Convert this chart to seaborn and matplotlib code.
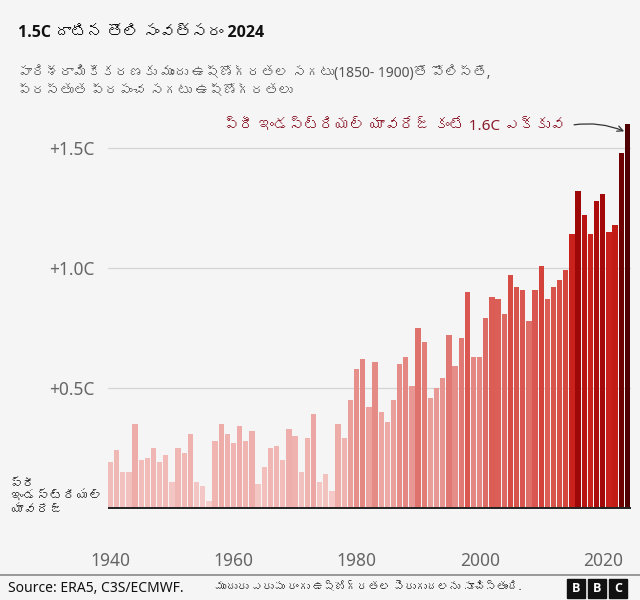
import numpy as np
import pandas as pd
import matplotlib
matplotlib.use("Agg")
import matplotlib.pyplot as plt
import seaborn as sns
from matplotlib import font_manager
from matplotlib.ft2font import FT2Font
from matplotlib.colors import LinearSegmentedColormap, Normalize, to_hex
from matplotlib.patches import Rectangle

# ---------------------------------------------------------------------------
# Data: annual global temperature vs 1850-1900 average (ERA5)
# ---------------------------------------------------------------------------
years = list(range(1940, 2025))
anomaly = [
    0.19, 0.24, 0.15, 0.15, 0.35, 0.20, 0.21, 0.25, 0.19, 0.22,  # 1940s
    0.11, 0.25, 0.23, 0.31, 0.11, 0.09, 0.03, 0.28, 0.35, 0.31,  # 1950s
    0.27, 0.34, 0.28, 0.32, 0.10, 0.17, 0.25, 0.26, 0.20, 0.33,  # 1960s
    0.30, 0.15, 0.29, 0.39, 0.11, 0.14, 0.07, 0.35, 0.29, 0.45,  # 1970s
    0.58, 0.62, 0.42, 0.61, 0.40, 0.36, 0.45, 0.60, 0.63, 0.51,  # 1980s
    0.75, 0.69, 0.46, 0.50, 0.54, 0.72, 0.59, 0.71, 0.90, 0.63,  # 1990s
    0.63, 0.79, 0.88, 0.87, 0.81, 0.97, 0.92, 0.91, 0.78, 0.91,  # 2000s
    1.01, 0.87, 0.92, 0.95, 0.99, 1.14, 1.32, 1.22, 1.14, 1.28,  # 2010s
    1.31, 1.15, 1.18, 1.48, 1.60,                                # 2020s
]
yticks = [0.5, 1.0, 1.5]
ytick_labels = ["+0.5C", "+1.0C", "+1.5C"]
xticks = [1940, 1960, 1980, 2000, 2020]

title = "1.5C దాటిన తొలి సంవత్సరం 2024"
subtitle = ("పారిశ్రామికీకరణకు ముందు ఉష్ణోగ్రతల సగటు(1850- 1900)తో పోలిస్తే,\n"
            "ప్రస్తుత ప్రపంచ సగటు ఉష్ణోగ్రతలు")
note = "ప్రీ ఇండస్ట్రియల్ యావరేజ్ కంటే 1.6C ఎక్కువ"
base_label = "ప్రీ\nఇండస్ట్రియల్\nయావరేజ్"
source = "Source: ERA5, C3S/ECMWF."
source_note = "ముదురు ఎరుపు రంగు ఉష్ణోగ్రతల పెరుగుదలను సూచిస్తుంది."

df = pd.DataFrame({"year": years, "anomaly": anomaly})

# ---------------------------------------------------------------------------
# Fonts: look for anything installed that covers Telugu
# ---------------------------------------------------------------------------
def find_font_for(codepoint):
    for f in font_manager.fontManager.ttflist:
        try:
            if codepoint in FT2Font(f.fname).get_charmap():
                return f.name
        except Exception:
            continue
    return None

telugu = find_font_for(0x0C24)
extra = [telugu] if telugu else []
families = ["Noto Sans"] + extra + ["DejaVu Sans"]
bold_families = ["Open Sans"] + extra + ["DejaVu Sans"]

sns.set_style("white")
plt.rcParams["font.family"] = families

# colour by value: pale pink -> deep maroon
cmap = LinearSegmentedColormap.from_list(
    "heat",
    [(0.0, "#f5d0ce"), (0.19, "#efb1ae"), (0.375, "#e58c88"), (0.56, "#da5a53"),
     (0.625, "#d4453d"), (0.72, "#c8201a"), (0.81, "#a80a0a"), (0.9, "#7a0202"),
     (1.0, "#4f0000")],
)
norm = Normalize(0, 1.6)
palette = {y: to_hex(cmap(norm(v))) for y, v in zip(years, anomaly)}

BG = "#f5f5f5"
fig = plt.figure(figsize=(6.4, 6.0), dpi=100, facecolor=BG)
ax = fig.add_axes([0.16875, 0.1, 0.8172, 0.7])
ax.set_facecolor(BG)

sns.barplot(data=df, x="year", y="anomaly", hue="year", palette=palette,
            native_scale=True, width=0.86, legend=False, ax=ax,
            saturation=1, edgecolor="none", linewidth=0)

ax.set_xlim(1939.6, 2024.6)
ax.set_ylim(-0.1333, 1.6167)

for v in yticks:
    ax.axhline(v, color="#d4d4d4", lw=0.9, zorder=0)
ax.axhline(0, color="#222222", lw=1.4, zorder=3)

ax.set_yticks(yticks)
ax.set_yticklabels(ytick_labels, fontsize=12.5, color="#666666")
ax.set_xticks(xticks)
ax.set_xticklabels([str(x) for x in xticks], fontsize=12.5, color="#666666")
ax.tick_params(axis="y", length=0, pad=10)
ax.tick_params(axis="x", direction="in", length=6, width=1, color="#777777", pad=9)
ax.set_xlabel("")
ax.set_ylabel("")
for s in ax.spines.values():
    s.set_visible(False)

# label for the zero line
fig.text(10 / 640, 1 - 497 / 600, base_label, fontsize=9.5, color="#222222",
         va="center", ha="left", linespacing=1.0)

# annotation for 2024
ax.annotate("", xy=(2023.9, 1.565), xytext=(2014.9, 1.595),
            arrowprops=dict(arrowstyle="->", color="#333333", lw=0.9,
                            connectionstyle="arc3,rad=-0.15"),
            annotation_clip=False)
fig.text(565 / 640, 1 - 127 / 600, note, fontsize=11, color="#8b1a2b",
         ha="right", va="center")

# title and subtitle
fig.text(18 / 640, 1 - 33 / 600, title, fontsize=11.5, fontweight="bold",
         family=bold_families, color="#111111", va="center")
fig.text(18 / 640, 1 - 82 / 600, subtitle, fontsize=10, color="#555555",
         va="center", linespacing=1.35)

# footer
fig.add_artist(plt.Line2D([0, 1], [1 - 575 / 600] * 2, color="#8a8a8a", lw=1.2))
fig.text(8 / 640, 1 - 588 / 600, source, fontsize=10, color="#111111", va="center")
fig.text(215 / 640, 1 - 588 / 600, source_note, fontsize=8, color="#111111",
         va="center")
for i, letter in enumerate("BBC"):
    x0 = 567 + i * 21
    fig.add_artist(Rectangle((x0 / 640, 1 - 598 / 600), 18 / 640, 19 / 600,
                             transform=fig.transFigure, color="#111111"))
    fig.text((x0 + 9) / 640, 1 - 588.5 / 600, letter, fontsize=9,
             fontweight="bold", family=bold_families, color="white",
             ha="center", va="center")

fig.savefig("out.png", dpi=100, facecolor=BG)
plt.close()
